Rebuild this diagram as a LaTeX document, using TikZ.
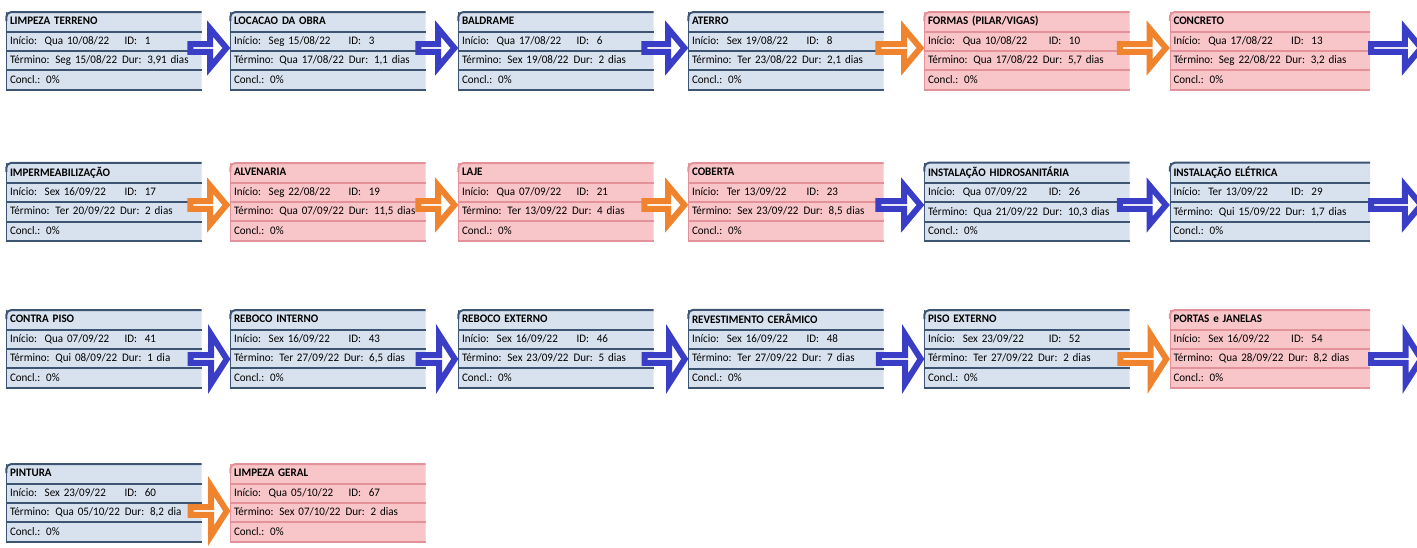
\documentclass[tikz,border=0pt]{standalone}
\usepackage{fontspec}
\setmainfont{Carlito}[FakeStretch=0.96]
\usepackage{tikz}
\usetikzlibrary{shapes,arrows}

\definecolor{fundoazul}{HTML}{D8E2EF}
\definecolor{linhaazul}{HTML}{3E5473}
\definecolor{fundoverm}{HTML}{F8C5C8}
\definecolor{linhaverm}{HTML}{E3929A}
\definecolor{setaazul}{HTML}{3A3EC6}
\definecolor{setalaranja}{HTML}{F0832E}

\newcommand{\esc}{\rule[-3pt]{0pt}{12pt}}
% caixa de tarefa: cor, nome, posicao, titulo, inicio, id, termino, duracao
\newcommand{\tarefa}[8]{%
  \node[tarefa, fill=fundo#1, #3] (#2) {\esc\textbf{#4}%
    \nodepart{two}\esc\makebox[.61\hsize][l]{Início:\ \ #5}ID:\ \ #6%
    \nodepart{three}\esc Término: #7\hspace{5pt}Dur: #8%
    \nodepart{four}\esc Concl.: 0\%};
  \draw[draw=linha#1, line width=.5pt] (#2.north west) -- (#2.south west);
  \draw[linha, draw=linha#1, rounded corners=5pt] ([yshift=-9pt]#2.north west) |- (#2.north east);
  \draw[linha, draw=linha#1] (#2.text split west) -- (#2.text split east);
  \draw[linha, draw=linha#1] (#2.two split west) -- (#2.two split east);
  \draw[linha, draw=linha#1] (#2.three split west) -- (#2.three split east);
  \draw[linha, draw=linha#1] (#2.south west) -- (#2.south east);
}

\begin{document}
\begin{tikzpicture}[node distance=224pt,
    tarefa/.style={rectangle split, rectangle split parts=4, text width=188pt,
      align=left, inner xsep=3.5pt, inner ysep=3.5pt, font=\fontsize{11.5}{13}\selectfont},
    linha/.style={line width=2pt},
    seta/.style={single arrow, draw, fill=white, line width=6pt, inner sep=0pt,
      minimum width=39pt, minimum height=36pt, single arrow head extend=12.5pt,
      single arrow tip angle=100, anchor=tip},
    seta azul/.style={seta, draw=setaazul},
    seta laranja/.style={seta, draw=setalaranja},
    seta grande/.style={minimum width=49pt, single arrow head extend=16.5pt, single arrow tip angle=115},
    seta fim/.style={anchor=tail, minimum height=50pt}]
  \useasboundingbox (0pt,0pt) rectangle (1417pt,-547pt);

  % linha 1
  \tarefa{azul}{t1}{at={(104pt,-51pt)}}{LIMPEZA TERRENO}{Qua 10/08/22}{1}{Seg 15/08/22}{3,91 dias}
  \tarefa{azul}{t2}{right of=t1}{LOCACAO DA OBRA}{Seg 15/08/22}{3}{Qua 17/08/22}{1,1 dias}
  \tarefa{azul}{t3}{right of=t2, node distance=228pt}{BALDRAME}{Qua 17/08/22}{6}{Sex 19/08/22}{2 dias}
  \tarefa{azul}{t4}{right of=t3, node distance=230pt}{ATERRO}{Sex 19/08/22}{8}{Ter 23/08/22}{2,1 dias}
  \tarefa{verm}{t5}{right of=t4, node distance=241pt, text width=198pt}{FORMAS (PILAR/VIGAS)}{Qua 10/08/22}{10}{Qua 17/08/22}{5,7 dias}
  \tarefa{verm}{t6}{right of=t5, node distance=243pt, text width=193pt}{CONCRETO}{Qua 17/08/22}{13}{Seg 22/08/22}{3,2 dias}

  % linha 2
  \tarefa{azul}{t7}{below of=t1, node distance=151pt}{IMPERMEABILIZAÇÃO}{Sex 16/09/22}{17}{Ter 20/09/22}{2 dias}
  \tarefa{verm}{t8}{right of=t7}{ALVENARIA}{Seg 22/08/22}{19}{Qua 07/09/22}{11,5 dias}
  \tarefa{verm}{t9}{right of=t8, node distance=228pt}{LAJE}{Qua 07/09/22}{21}{Ter 13/09/22}{4 dias}
  \tarefa{verm}{t10}{right of=t9, node distance=230pt}{COBERTA}{Ter 13/09/22}{23}{Sex 23/09/22}{8,5 dias}
  \tarefa{azul}{t11}{right of=t10, node distance=241pt, text width=198pt}{INSTALAÇÃO HIDROSANITÁRIA}{Qua 07/09/22}{26}{Qua 21/09/22}{10,3 dias}
  \tarefa{azul}{t12}{right of=t11, node distance=243pt, text width=193pt}{INSTALAÇÃO ELÉTRICA}{Ter 13/09/22}{29}{Qui 15/09/22}{1,7 dias}

  % linha 3
  \tarefa{azul}{t13}{below of=t7, node distance=147pt}{CONTRA PISO}{Qua 07/09/22}{41}{Qui 08/09/22}{1 dia}
  \tarefa{azul}{t14}{right of=t13}{REBOCO INTERNO}{Sex 16/09/22}{43}{Ter 27/09/22}{6,5 dias}
  \tarefa{azul}{t15}{right of=t14, node distance=228pt}{REBOCO EXTERNO}{Sex 16/09/22}{46}{Sex 23/09/22}{5 dias}
  \tarefa{azul}{t16}{right of=t15, node distance=230pt}{REVESTIMENTO CERÂMICO}{Sex 16/09/22}{48}{Ter 27/09/22}{7 dias}
  \tarefa{azul}{t17}{right of=t16, node distance=241pt, text width=198pt}{PISO EXTERNO}{Sex 23/09/22}{52}{Ter 27/09/22}{2 dias}
  \tarefa{verm}{t18}{right of=t17, node distance=243pt, text width=193pt}{PORTAS e JANELAS}{Sex 16/09/22}{54}{Qua 28/09/22}{8,2 dias}

  % linha 4
  \tarefa{azul}{t19}{below of=t13, node distance=154pt}{PINTURA}{Sex 23/09/22}{60}{Qua 05/10/22}{8,2 dia}
  \tarefa{verm}{t20}{right of=t19}{LIMPEZA GERAL}{Qua 05/10/22}{67}{Sex 07/10/22}{2 dias}

  % setas
  \node[seta azul] (s1) at ([yshift=3pt]t2.west) {};
  \node[seta azul] (s2) at ([yshift=3pt]t3.west) {};
  \node[seta azul, minimum height=40pt] (s3) at ([yshift=3pt]t4.west) {};
  \node[seta laranja, minimum height=42pt] (s4) at ([yshift=3pt]t5.west) {};
  \node[seta laranja, minimum height=46pt] (s5) at ([yshift=3pt]t6.west) {};
  \node[seta azul, seta fim] (s6) at ([shift={(-2pt,3pt)}]t6.east) {};

  \node[seta laranja] (s7) at ([yshift=-3pt]t8.west) {};
  \node[seta laranja] (s8) at ([yshift=-3pt]t9.west) {};
  \node[seta laranja, minimum height=40pt] (s9) at ([yshift=-3pt]t10.west) {};
  \node[seta azul, minimum height=42pt] (s10) at ([yshift=-3pt]t11.west) {};
  \node[seta azul, minimum height=46pt] (s11) at ([yshift=-3pt]t12.west) {};
  \node[seta azul, seta fim] (s12) at ([shift={(-2pt,-3pt)}]t12.east) {};

  \node[seta azul, seta grande] (s13) at ([yshift=-10pt]t14.west) {};
  \node[seta azul, seta grande] (s14) at ([yshift=-10pt]t15.west) {};
  \node[seta azul, seta grande, minimum height=40pt] (s15) at ([yshift=-10pt]t16.west) {};
  \node[seta azul, seta grande, minimum height=42pt] (s16) at ([yshift=-10pt]t17.west) {};
  \node[seta laranja, seta grande, minimum height=46pt] (s17) at ([yshift=-10pt]t18.west) {};
  \node[seta azul, seta grande, seta fim] (s18) at ([shift={(-2pt,-10pt)}]t18.east) {};

  \node[seta laranja, seta grande] (s19) at ([yshift=-8pt]t20.west) {};
\end{tikzpicture}
\end{document}
